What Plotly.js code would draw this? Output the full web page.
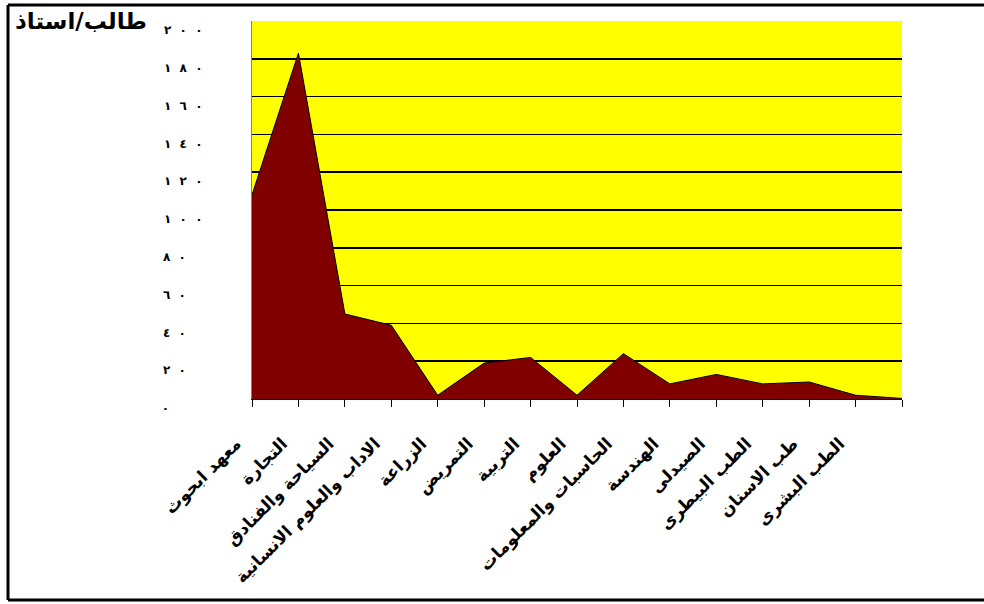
<!DOCTYPE html>
<html><head><meta charset="utf-8">
<script src="https://cdn.plot.ly/plotly-3.0.1.min.js"></script>
<style>html,body{margin:0;padding:0;background:#fff}#chart{width:984px;height:604px}</style>
</head><body><div id="chart"></div>
<script>
// Data
const categories = ['معهد ابحوث','التجارة','السياحة والفنادق','الاداب والعلوم الانسانية','الزراعة','التمريض','التربية','العلوم','الحاسبات والمعلومات','الهندسة','الصيدلى','الطب البيطرى','طب الاسنان','الطب البشرى',' '];
const ratios = [108,183,45,39,2,19,22,2,24,8,13,8,9,2,0.3];
const yTickValues = [0,20,40,60,80,100,120,140,160,180,200];
const yTickLabels = ['٠','٢٠','٤٠','٦٠','٨٠','١٠٠','١٢٠','١٤٠','١٦٠','١٨٠','٢٠٠'];
const titleText = 'طالب/استاذ';

// Layout geometry (px)
const W = 984, H = 604;
const M = {l: 252, r: 82, t: 21, b: 205};
const pw = W - M.l - M.r, ph = H - M.t - M.b;
const px = x => (x - M.l) / pw;
const py = y => (H - M.b - y) / ph;

// spaced, left-aligned Arabic-Indic tick labels (forced left-to-right digit order)
const maxLen = Math.max(...yTickLabels.map(s => s.length));
const fmt = s => '\u202D' + s.split('').join('\u00a0\u00a0') + '\u00a0\u00a0\u2007'.repeat(maxLen - s.length) + '\u202C';

const trace = {
  type: 'scatter', mode: 'lines',
  x: categories, y: ratios,
  fill: 'tozeroy', fillcolor: '#800000',
  line: {color: '#000000', width: 1},
  hoverinfo: 'skip'
};

const font = 'DejaVu Sans, Arial, sans-serif';
const layout = {
  width: W, height: H,
  margin: M,
  paper_bgcolor: '#ffffff', plot_bgcolor: '#ffff00',
  showlegend: false,
  font: {family: font, color: '#000', size: 12},
  xaxis: {
    type: 'category', range: [0, categories.length - 1],
    showline: true, linecolor: '#000', linewidth: 1,
    ticks: 'outside', ticklen: 7, tickcolor: '#000', tickwidth: 1,
    showgrid: false, zeroline: false,
    tickangle: -45,
    tickfont: {family: font, size: 17, color: '#000', weight: 'bold'},
    ticklabelshift: -16, ticklabelstandoff: 20,
    fixedrange: true
  },
  yaxis: {
    range: [0, 200],
    tickvals: yTickValues, ticktext: yTickLabels.map(fmt),
    tickfont: {family: font, size: 12, color: '#000', weight: 'bold'},
    showline: true, linecolor: '#808080', linewidth: 1,
    ticks: '', showgrid: true, gridcolor: '#000', gridwidth: 1.5,
    zeroline: false, ticklabelstandoff: 46, ticklabelshift: 9,
    fixedrange: true
  },
  annotations: [{
    xref: 'paper', yref: 'paper', x: px(13), y: py(6),
    xanchor: 'left', yanchor: 'top', showarrow: false,
    text: titleText,
    font: {family: font, size: 23, color: '#000', weight: 'bold'}
  }],
  shapes: [
    {type: 'line', xref: 'paper', yref: 'paper', x0: px(8), x1: px(984), y0: py(5), y1: py(5), line: {color: '#000', width: 3}},
    {type: 'line', xref: 'paper', yref: 'paper', x0: px(8), x1: px(984), y0: py(600), y1: py(600), line: {color: '#000', width: 3}},
    {type: 'line', xref: 'paper', yref: 'paper', x0: px(8), x1: px(8), y0: py(5), y1: py(600), line: {color: '#000', width: 3}}
  ]
};

Plotly.newPlot('chart', [trace], layout, {staticPlot: true, displayModeBar: false});
</script></body></html>
